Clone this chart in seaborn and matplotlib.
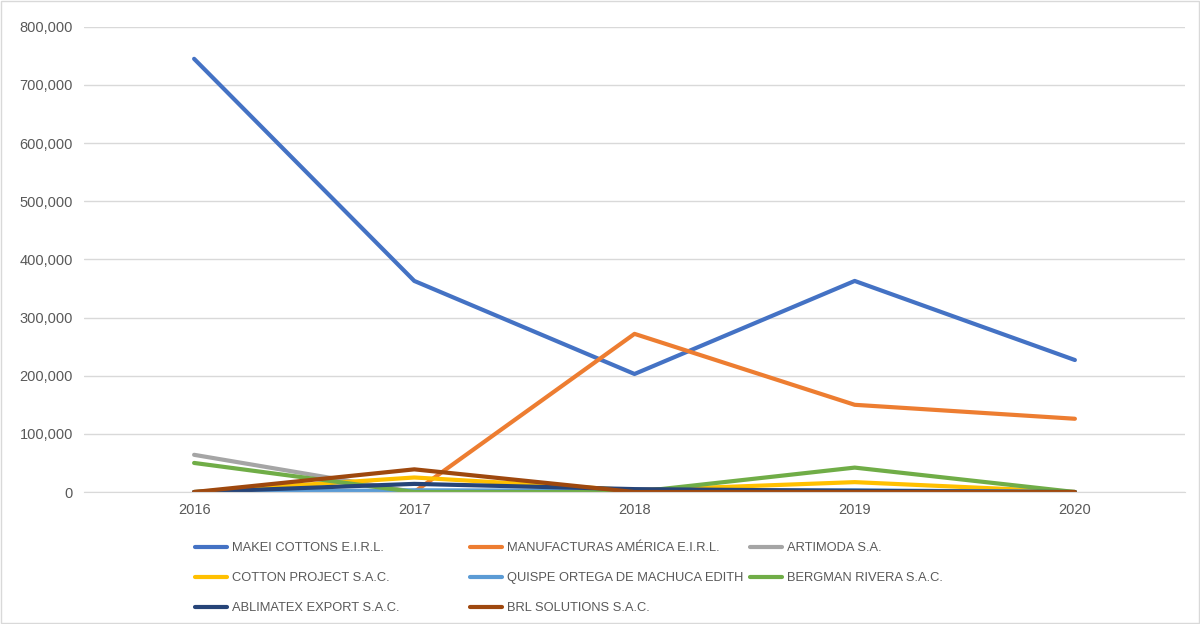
import numpy as np
import pandas as pd
import seaborn as sns
import matplotlib.pyplot as plt
from matplotlib.ticker import FuncFormatter

years = [2016, 2017, 2018, 2019, 2020]

makei_cottons = [745000, 363000, 203000, 363000, 227000]
manufacturas_america = [0, 0, 272000, 150000, 126000]
artimoda = [64000, 0, 0, 0, 0]
cotton_project = [0, 25000, 3000, 17000, 0]
quispe_ortega = [0, 3000, 2000, 3000, 0]
bergman_rivera = [50000, 0, 0, 42000, 0]
ablimatex_export = [0, 14000, 5000, 2000, 0]
brl_solutions = [0, 39000, 0, 0, 0]

series_names = [
    "MAKEI COTTONS E.I.R.L.",
    "MANUFACTURAS AMÉRICA E.I.R.L.",
    "ARTIMODA S.A.",
    "COTTON PROJECT S.A.C.",
    "QUISPE ORTEGA DE MACHUCA EDITH",
    "BERGMAN RIVERA S.A.C.",
    "ABLIMATEX EXPORT S.A.C.",
    "BRL SOLUTIONS S.A.C.",
]
series_values = [makei_cottons, manufacturas_america, artimoda, cotton_project,
                 quispe_ortega, bergman_rivera, ablimatex_export, brl_solutions]
colors = ["#4472C4", "#ED7D31", "#A5A5A5", "#FFC000",
          "#5B9BD5", "#70AD47", "#264478", "#9E480E"]

rows = []
for name, vals in zip(series_names, series_values):
    for yr, v in zip(years, vals):
        rows.append({"year": yr, "value": v, "company": name})
df = pd.DataFrame(rows)

sns.set_style("white")
plt.rcParams['font.family'] = ['Liberation Sans', 'DejaVu Sans']

fig = plt.figure(figsize=(12, 6.24), dpi=100)
ax = fig.add_axes([0.07, 0.2115, 0.9175, 0.7455])

sns.lineplot(data=df, x="year", y="value", hue="company", hue_order=series_names,
             palette=colors, linewidth=3, ax=ax, legend=False)

ax.set_xlim(2015.5, 2020.5)
ax.set_ylim(0, 800000)
ax.set_yticks(np.arange(0, 800001, 100000))
ax.set_xticks(years)
ax.yaxis.set_major_formatter(FuncFormatter(lambda v, p: f"{int(v):,}"))
ax.grid(axis="y", color="#D9D9D9", linewidth=1)
ax.set_axisbelow(True)
ax.set_xlabel("")
ax.set_ylabel("")
for side in ["top", "right", "left"]:
    ax.spines[side].set_visible(False)
ax.spines["bottom"].set_color("#D9D9D9")
ax.tick_params(axis="both", length=0, labelsize=10.5, labelcolor="#595959", pad=8)

# legend as three columns, filled row by row like the original
handles = [plt.Line2D([], [], color=c, linewidth=3) for c in colors]
col_x = [195 / 1200, 470 / 1200, 750 / 1200]
for c, x0 in enumerate(col_x):
    idx = list(range(c, len(series_names), 3))
    fig.legend([handles[i] for i in idx], [series_names[i] for i in idx],
               loc="upper left", bbox_to_anchor=(x0, 82 / 624), ncol=1, frameon=False,
               fontsize=9.3, labelcolor="#595959", handlelength=2.5, handletextpad=0.35,
               borderpad=0, borderaxespad=0, labelspacing=1.4)

# outer chart border
fig.patches.append(plt.Rectangle((0.001, 0.001), 0.998, 0.998, transform=fig.transFigure,
                                 fill=False, edgecolor="#D9D9D9", linewidth=1))

fig.savefig("out.png", dpi=100)
